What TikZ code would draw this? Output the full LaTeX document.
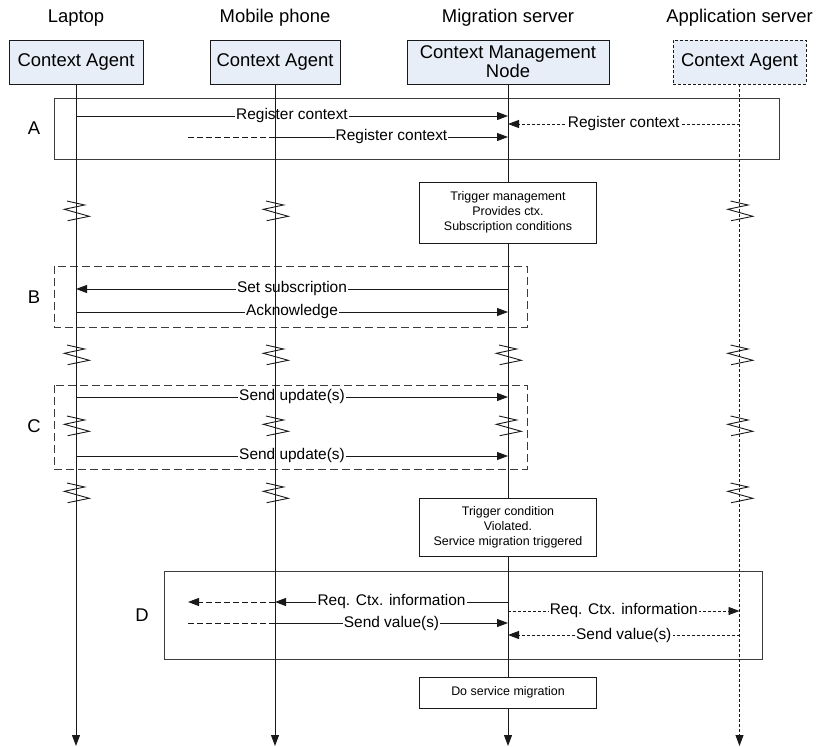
\documentclass[tikz,border=0pt]{standalone}
\usepackage{fontspec}
\setmainfont{Liberation Sans}
\usetikzlibrary{arrows.meta}
\definecolor{agentfill}{RGB}{232,238,248}
\definecolor{ink}{RGB}{25,25,25}
\definecolor{frame}{RGB}{60,60,60}

\tikzset{
  bigfont/.style={font=\fontsize{18.5}{20}\selectfont},
  msgfont/.style={font=\fontsize{15.5}{17}\selectfont},
  notefont/.style={font=\fontsize{12.5}{15}\selectfont},
  agent/.style={draw=ink, fill=agentfill, line width=0.9bp, minimum height=44bp,
    inner sep=0pt, align=center, bigfont},
  title/.style={inner sep=0pt, bigfont},
  phase/.style={inner sep=0pt, bigfont},
  note/.style={draw=ink, fill=white, line width=0.9bp, inner sep=0pt,
    minimum width=177bp, align=center, notefont},
  region/.style={draw=frame, line width=0.9bp},
  dregion/.style={draw=frame, line width=0.9bp, dash pattern=on 8bp off 4bp},
  life/.style={draw=ink, line width=0.9bp},
  dlife/.style={draw=ink, line width=0.9bp, dash pattern=on 3bp off 2bp},
  tip/.style={-{Triangle[length=11bp,width=8bp]}},
  msg/.style={draw=ink, line width=0.9bp},
  relay/.style={draw=ink, line width=0.9bp, dash pattern=on 6bp off 3bp},
  dotmsg/.style={draw=ink, line width=0.9bp, dash pattern=on 3bp off 2bp},
  lbl/.style={midway, fill=white, inner sep=1.2bp, msgfont},
  brk/.pic={\draw[ink, line width=0.9bp] (-9,-10) -- (8.6,-6) -- (-11.7,-1.7) -- (13.3,5.3) -- (-8.4,9.7);}
}

\begin{document}
\begin{tikzpicture}[x=1bp,y=-1bp]
\useasboundingbox (0,0) rectangle (816,747);

% device titles
\node[title] (tLap) at (76,18) {Laptop};
\node[title] (tMob) at (275,18) {Mobile phone};
\node[title] (tMig) at (508,18) {Migration server};
\node[title] (tApp) at (739.5,18) {Application server};

% participants
\node[agent, minimum width=134bp] (lap) at (76,62) {Context Agent};
\node[agent, minimum width=130bp] (mob) at (275,62) {Context Agent};
\node[agent, minimum width=202bp] (cmn) at (508,62) {Context Management\\[-1bp]Node};
\node[agent, minimum width=133bp, dash pattern=on 3bp off 2bp] (app) at (739.5,62) {Context Agent};

% free end of the relayed messages
\coordinate (ext) at (188,0);

% phase frames
\draw[region] (54,98) rectangle (779,159);
\draw[dregion] (54,266) rectangle (527,327);
\draw[dregion] (54,385) rectangle (527,469);
\draw[region] (164,571) rectangle (762,659);
\node[phase] (pA) at (34,128) {A};
\node[phase] (pB) at (34,297) {B};
\node[phase] (pC) at (34,426) {C};
\node[phase] (pD) at (142,615) {D};

% A: registration
\draw[msg, tip] (lap |- 0,116) -- node[lbl] {Register context} (cmn |- 0,116);
\draw[relay] (ext |- 0,137) -- (mob |- 0,137);
\draw[msg, tip] (mob |- 0,137) -- node[lbl] {Register context} (cmn |- 0,137);
\draw[dotmsg, tip] (app |- 0,124) -- node[lbl] {Register context} (cmn |- 0,124);

% B: subscription
\draw[msg, tip] (cmn |- 0,289) -- node[lbl] {Set subscription} (lap |- 0,289);
\draw[msg, tip] (lap |- 0,312) -- node[lbl] {Acknowledge} (cmn |- 0,312);

% C: updates
\draw[msg, tip] (lap |- 0,397) -- node[lbl] {Send update(s)} (cmn |- 0,397);
\draw[msg, tip] (lap |- 0,456) -- node[lbl] {Send update(s)} (cmn |- 0,456);

% D: context request before migration
\draw[msg, tip] (cmn |- 0,602) -- node[lbl] {Req. Ctx. information} (mob |- 0,602);
\draw[relay, tip] (mob |- 0,602) -- (ext |- 0,602);
\draw[relay] (ext |- 0,623) -- (mob |- 0,623);
\draw[msg, tip] (mob |- 0,623) -- node[lbl] {Send value(s)} (cmn |- 0,623);
\draw[dotmsg, tip] (cmn |- 0,611) -- node[lbl] {Req. Ctx. information} (app |- 0,611);
\draw[dotmsg, tip] (app |- 0,635) -- node[lbl] {Send value(s)} (cmn |- 0,635);

% lifelines
\coordinate (lapEnd) at (lap |- 0,746);
\coordinate (mobEnd) at (mob |- 0,746);
\coordinate (cmnEnd) at (cmn |- 0,746);
\coordinate (appEnd) at (app |- 0,746);
\draw[life, tip] (lap) -- (lapEnd);
\draw[life, tip] (mob) -- (mobEnd);
\draw[life, tip] (cmn) -- (cmnEnd);
\draw[dlife, tip] (app) -- (appEnd);

% time breaks
\foreach \yy in {211,355,426,493} {
  \pic at (lap |- 0,\yy) {brk};
  \pic at (mob |- 0,\yy) {brk};
  \pic at (app |- 0,\yy) {brk};
}
\pic at (cmn |- 0,355) {brk};
\pic at (cmn |- 0,426) {brk};

% processing steps at the management node
\node[note, minimum height=61bp] (trig1) at (cmn |- 0,212.5)
  {Trigger management\\Provides ctx.\\Subscription conditions};
\node[note, minimum height=58bp] (trig2) at (cmn |- 0,527)
  {Trigger condition\\Violated.\\Service migration triggered};
\node[note, minimum height=31bp] (mig) at (cmn |- 0,692.5) {Do service migration};

\end{tikzpicture}
\end{document}
